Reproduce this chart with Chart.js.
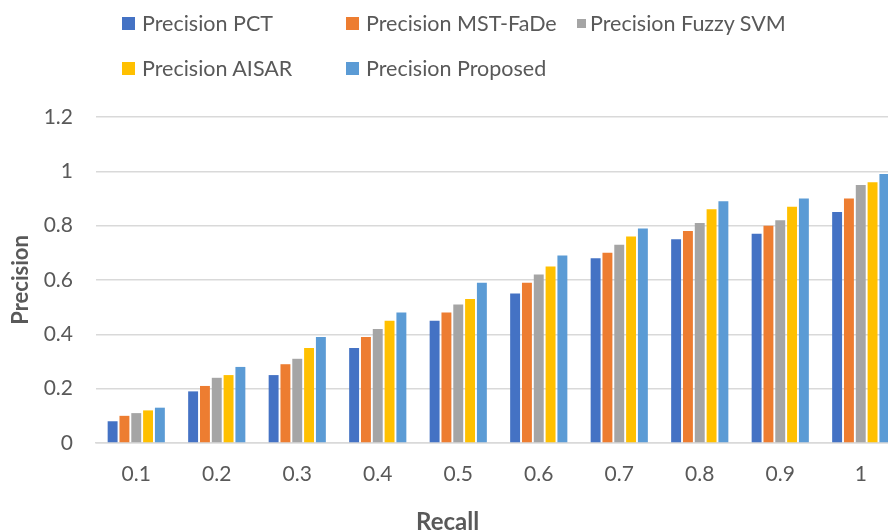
<!DOCTYPE html>
<html><head><meta charset="utf-8">
<script src="https://cdn.jsdelivr.net/npm/chart.js@4"></script>
<style>
html,body{margin:0;padding:0;background:#fff;overflow:hidden;width:888px;height:532px;}
#wrap{position:absolute;left:0;top:0;width:901px;height:532px;}
.lg{position:absolute;font-family:Lato,"Open Sans",sans-serif;font-size:21.5px;color:#595959;white-space:nowrap;line-height:26px;}
.mk{position:absolute;}
#xt{position:absolute;left:416px;top:507px;font-family:Lato,"Open Sans",sans-serif;font-size:24px;font-weight:bold;color:#595959;line-height:28px;white-space:nowrap;}
</style></head>
<body>
<div id="wrap"><canvas id="c" width="901" height="532"></canvas></div>
<div id="legend"></div>
<div id="xt">Recall</div>
<script>
const categories = ['0.1','0.2','0.3','0.4','0.5','0.6','0.7','0.8','0.9','1'];
const seriesNames = ['Precision PCT','Precision MST-FaDe','Precision Fuzzy SVM','Precision AISAR','Precision Proposed'];
const pct      = [0.08,0.19,0.25,0.35,0.45,0.55,0.68,0.75,0.77,0.85];
const mstFade  = [0.10,0.21,0.29,0.39,0.48,0.59,0.70,0.78,0.80,0.90];
const fuzzySvm = [0.11,0.24,0.31,0.42,0.51,0.62,0.73,0.81,0.82,0.95];
const aisar    = [0.12,0.25,0.35,0.45,0.53,0.65,0.76,0.86,0.87,0.96];
const proposed = [0.13,0.28,0.39,0.48,0.59,0.69,0.79,0.89,0.90,0.99];
const colors = ['#4472C4','#ED7D31','#A5A5A5','#FFC000','#5B9BD5'];
const allData = [pct,mstFade,fuzzySvm,aisar,proposed];

// custom legend: [markerLeft, markerSize, textLeft, rowCenterY]
const legPos = [[122,13,142,23],[346,13,366,23],[577,9,590,23],[122,13,142,68],[346,13,366,68]];
const lg = document.getElementById('legend');
seriesNames.forEach((n,i)=>{
  const [mx,ms,tx,cy]=legPos[i];
  const m=document.createElement('div');m.className='mk';
  m.style.cssText='left:'+mx+'px;top:'+(cy-ms/2)+'px;width:'+ms+'px;height:'+ms+'px;background:'+colors[i];
  lg.appendChild(m);
  const d=document.createElement('div');d.className='lg';
  d.style.left=tx+'px';d.style.top=(cy-13)+'px';
  d.textContent=n;
  lg.appendChild(d);
});

const FONT = 'Lato, "Open Sans", sans-serif';
new Chart(document.getElementById('c'),{
  type:'bar',
  data:{labels:categories,datasets:allData.map((d,i)=>({label:seriesNames[i],data:d,backgroundColor:colors[i],borderWidth:0,categoryPercentage:0.734,barPercentage:0.84}))},
  options:{
    responsive:false,animation:false,
    layout:{padding:{top:117,right:0,left:0,bottom:0}},
    plugins:{legend:{display:false},tooltip:{enabled:false}},
    scales:{
      x:{grid:{display:false},border:{display:true,color:'#D9D9D9',width:1.5},
         afterFit:s=>{s.height=89;},
         ticks:{color:'#595959',font:{family:FONT,size:21},padding:11},
         title:{display:false}},
      y:{min:0,max:1.2,grid:{color:'#D9D9D9',lineWidth:1.5,drawTicks:false},border:{display:false},
         afterFit:s=>{s.width=96;},
         ticks:{stepSize:0.2,color:'#595959',font:{family:FONT,size:21},padding:23,callback:v=>Math.round(v*10)/10},
         title:{display:true,text:'Precision',color:'#595959',font:{family:FONT,size:22,weight:'bold'},padding:{top:8,bottom:0}}}
    }
  }
});
</script>
</body></html>
